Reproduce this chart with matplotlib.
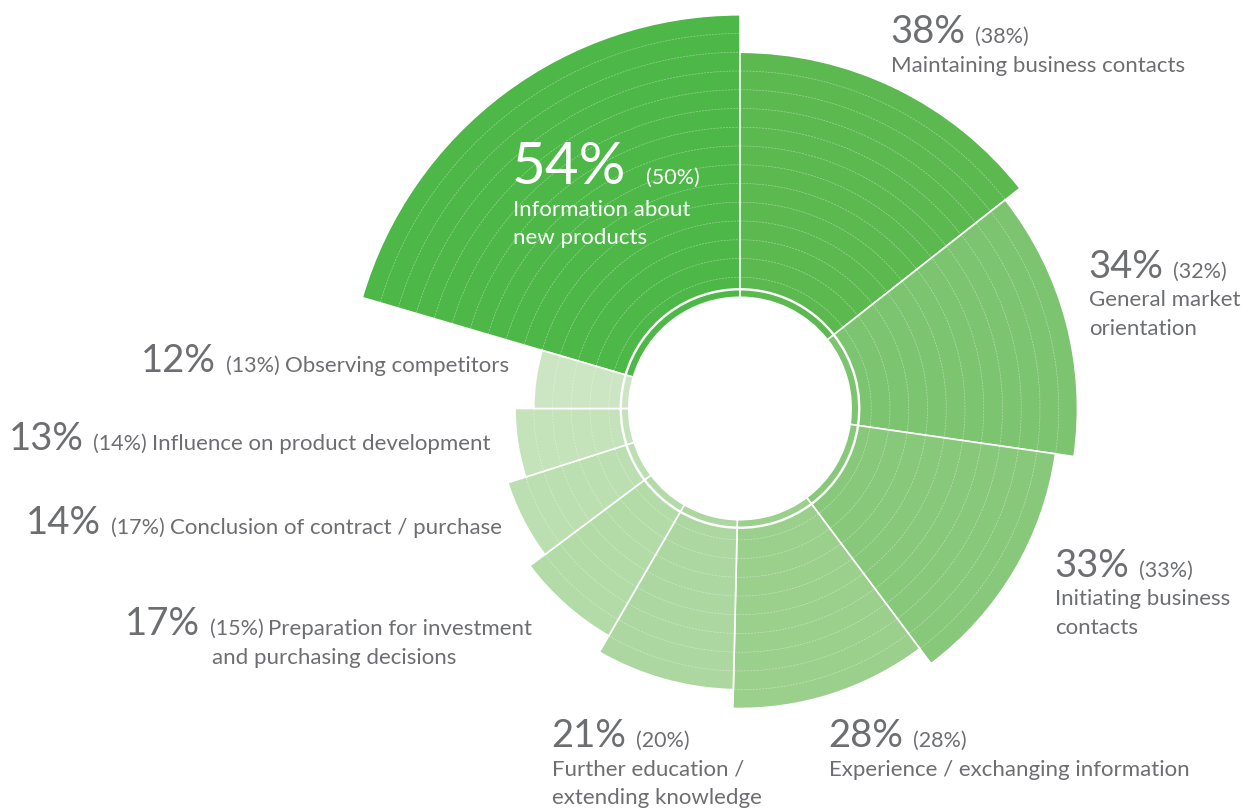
import numpy as np
import matplotlib
matplotlib.use("Agg")
import matplotlib.pyplot as plt

# Reasons for visiting the trade fair: share this year and (previous year)
categories = [
    "Information about\nnew products",
    "Maintaining business contacts",
    "General market\norientation",
    "Initiating business\ncontacts",
    "Experience / exchanging information",
    "Further education /\nextending knowledge",
    "Preparation for investment\nand purchasing decisions",
    "Conclusion of contract / purchase",
    "Influence on product development",
    "Observing competitors",
]
current = [54, 38, 34, 33, 28, 21, 17, 14, 13, 12]
previous = [50, 38, 32, 33, 28, 20, 15, 17, 14, 13]
colors = ["#4db848", "#5cb950", "#7cc470", "#88c87a", "#9bcf8c",
          "#acd7a0", "#b3dba8", "#bcdfb1", "#c4e3ba", "#cce6c4"]

W, H, DPI = 1250, 811, 100
GREY = "#6d6e71"
FONT = ["Lato", "DejaVu Sans"]
plt.rcParams["font.family"] = FONT

fig = plt.figure(figsize=(W / DPI, H / DPI), dpi=DPI)
fig.patch.set_facecolor("white")

# ---- rose chart on a polar axes -------------------------------------------
cx, cy = 740.0, 408.5          # centre in pixels (from top-left)
unit = 18.75                   # pixels per ring step
RMAX = 21.3
R_px = RMAX * unit
ax = fig.add_axes([(cx - R_px) / W, (H - cy - R_px) / H, 2 * R_px / W, 2 * R_px / H],
                  projection="polar")
ax.set_theta_zero_location("N")
ax.set_theta_direction(-1)
ax.set_ylim(0, RMAX)
ax.axis("off")

vals = np.array(current, dtype=float)
widths = 2 * np.pi * vals / vals.sum()
starts = -widths[0] + np.concatenate([[0.0], np.cumsum(widths)[:-1]])

# radial extent: one ring per rank, the leading reason gets an extra ring
HOLE = 6.0
ranks = np.argsort(np.argsort(vals))
rings = 5 + ranks
rings[np.argmax(vals)] += 1
outer = HOLE + rings

BAND_LO, BAND_HI, MAIN_LO = 5.93, 6.34, 6.38
ax.bar(starts, BAND_HI - BAND_LO, width=widths, bottom=BAND_LO, align="edge",
       color=colors, edgecolor="white", linewidth=1.2, zorder=2)
ax.bar(starts, outer - MAIN_LO, width=widths, bottom=MAIN_LO, align="edge",
       color=colors, edgecolor="white", linewidth=1.2, zorder=2)

# fine dashed ring lines across the segments
th = np.linspace(0, 2 * np.pi, 720)
for k in range(1, int(rings.max())):
    ax.plot(th, np.full_like(th, HOLE + k), color="white", lw=0.5, alpha=0.4,
            ls=(0, (3, 1.5)), zorder=3)

# ---- labels -----------------------------------------------------------------
tax = fig.add_axes([0, 0, 1, 1], zorder=5)
tax.set_xlim(0, W)
tax.set_ylim(H, 0)
tax.axis("off")
fig.canvas.draw()
renderer = fig.canvas.get_renderer()

BIG, BIG_LEAD, PAREN, LABEL = 27.5, 42, 15.5, 16
LINE = 28.5


def put(x, y, s, size, color):
    t = tax.text(x, y, s, fontsize=size, color=color, ha="left", va="baseline",
                 fontweight="normal")
    return x + t.get_window_extent(renderer).width


# (x, baseline, layout) per category; "stack": text below number, "inline": text after it
placement = [
    (511.7, 184.0, "stack"),
    (890.0, 43.0, "stack"),
    (1088.0, 278.0, "stack"),
    (1054.0, 576.7, "stack"),
    (828.4, 747.0, "stack"),
    (550.8, 747.3, "stack"),
    (124.7, 635.0, "inline"),
    (25.8, 534.0, "inline"),
    (8.6, 450.0, "inline"),
    (141.2, 371.7, "inline"),
]

for i, (x, y, mode) in enumerate(placement):
    col = "white" if i == 0 else GREY
    size = BIG_LEAD if i == 0 else BIG
    gap = 20 if i == 0 else 10
    xe = put(x, y, f"{current[i]}%", size, col)
    px = xe + gap
    pe = put(px, y, f"({previous[i]}%)", PAREN, col)
    lines = categories[i].split("\n")
    if mode == "stack":
        for j, ln in enumerate(lines):
            put(x + 1, y + (j + 1) * LINE + (3 if i == 0 else 0), ln, LABEL, col)
    else:
        put(pe + 5, y, lines[0], LABEL, col)
        for j, ln in enumerate(lines[1:]):
            put(px + 2, y + (j + 1) * LINE, ln, LABEL, col)

fig.savefig("out.png", dpi=DPI, facecolor="white")
